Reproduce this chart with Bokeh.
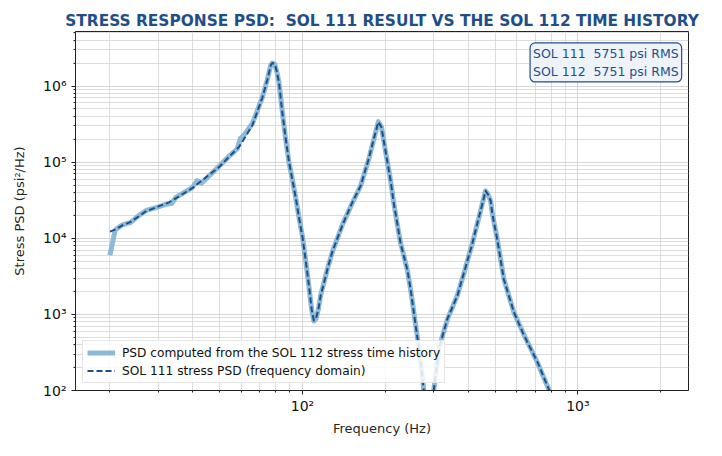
from bokeh.plotting import figure
from bokeh.models import FixedTicker, CustomJSTickFormatter, Label, Legend, LegendItem
from bokeh.embed import file_html
from bokeh.resources import INLINE

# ---- data ----
freq_111 = [20.0, 20.9, 22.2, 23.8, 27.0, 30.0, 32.7, 34.7, 39.8, 42.1, 49.8, 54.1, 58.8,
            60.5, 65.8, 71.5, 74.6, 76.7, 77.7, 79.3, 80.6, 82.2, 84.5, 86.9, 89.3, 91.9,
            94.5, 97.1, 100.0, 102.7, 105.6, 108.0, 110.0, 112.0, 114.2, 116.4, 123.1,
            128.4, 139.6, 151.7, 162.6, 174.3, 184.4, 188.6, 193.4, 200.4, 209.0, 214.8,
            221.0, 227.2, 233.6, 240.3, 247.0, 251.8, 257.6, 264.8, 272.5, 280.0, 288.0,
            296.0, 313.0, 335.7, 365.0, 385.5, 413.7, 437.0, 449.6, 462.0, 471.3, 482.0,
            489.0, 510.0, 538.6, 586.0, 637.0, 712.0, 785.0, 850.0, 1000.0]
psd_111 = [1.22e4, 1.30e4, 1.48e4, 1.64e4, 2.25e4, 2.62e4, 2.95e4, 3.35e4, 4.55e4, 5.35e4,
           8.6e4, 1.17e5, 1.58e5, 1.85e5, 3.05e5, 7.0e5, 1.22e6, 1.86e6, 2.01e6, 1.95e6,
           1.57e6, 1.11e6, 4.5e5, 2.05e5, 1.02e5, 5.9e4, 3.44e4, 1.89e4, 1.04e4, 5.2e3,
           2.35e3, 1.17e3, 8.3e2, 8.9e2, 1.15e3, 1.75e3, 3.86e3, 6.67e3, 1.48e4, 2.96e4,
           4.87e4, 1.13e5, 2.5e5, 3.37e5, 2.9e5, 1.38e5, 5.65e4, 2.81e4, 1.55e4, 8.5e3,
           5.74e3, 3.86e3, 2.13e3, 1.29e3, 7.1e2, 3.57e2, 1.46e2, 6.0e1, 4.0e1, 7.0e1,
           3.57e2, 8.71e2, 1.75e3, 3.49e3, 8.53e3, 1.89e4, 2.8e4, 4.19e4, 3.78e4, 3.11e4,
           2.09e4, 9.44e3, 2.87e3, 1.06e3, 5.3e2, 2.39e2, 1.03e2, 5.5e1, 2.0e1]

freq_112 = [20.0, 20.9, 22.2, 23.8, 25.5, 27.0, 30.0, 32.0, 33.5, 34.7, 39.8, 41.5, 43.0,
            49.8, 54.1, 58.0, 59.5, 61.0, 65.8, 71.5, 74.6, 76.7, 77.7, 79.3, 80.6, 82.2,
            84.5, 86.9, 89.3, 91.9, 94.5, 97.1, 100.0, 102.7, 105.6, 108.0, 110.0, 112.0,
            114.2, 116.4, 123.1, 128.4, 139.6, 151.7, 162.6, 174.3, 184.4, 188.6, 193.4,
            200.4, 209.0, 214.8, 221.0, 227.2, 233.6, 240.3, 247.0, 251.8, 257.6, 264.8,
            272.5, 280.0, 288.0, 296.0, 313.0, 335.7, 365.0, 385.5, 413.7, 437.0, 449.6,
            462.0, 471.3, 482.0, 489.0, 510.0, 538.6, 586.0, 637.0, 712.0, 785.0, 850.0,
            1000.0]
psd_112 = [6.0e3, 1.28e4, 1.50e4, 1.62e4, 2.0e4, 2.30e4, 2.58e4, 2.80e4, 2.85e4, 3.45e4,
           4.62e4, 5.7e4, 5.3e4, 8.8e4, 1.19e5, 1.50e5, 2.05e5, 2.2e5, 3.21e5, 7.1e5,
           1.22e6, 1.88e6, 2.0e6, 1.93e6, 1.58e6, 1.10e6, 4.6e5, 2.0e5, 1.0e5, 6.0e4,
           3.4e4, 1.9e4, 1.05e4, 5.1e3, 2.3e3, 1.15e3, 8.2e2, 8.8e2, 1.16e3, 1.78e3,
           3.9e3, 6.6e3, 1.5e4, 2.9e4, 4.9e4, 1.12e5, 2.48e5, 3.4e5, 2.92e5, 1.36e5,
           5.7e4, 2.8e4, 1.5e4, 8.6e3, 5.8e3, 3.8e3, 2.1e3, 1.3e3, 7.2e2, 3.6e2, 1.5e2,
           6.0e1, 4.0e1, 7.0e1, 3.6e2, 8.6e2, 1.78e3, 3.45e3, 8.6e3, 1.86e4, 2.85e4,
           4.2e4, 3.8e4, 3.1e4, 2.1e4, 9.6e3, 2.9e3, 1.05e3, 5.4e2, 2.35e2, 1.02e2,
           5.5e1, 2.0e1]

x_major = [100, 1000]
x_minor = [20, 30, 40, 50, 60, 70, 80, 90, 200, 300, 400, 500, 600, 700, 800, 900, 2000]
y_major = [1e2, 1e3, 1e4, 1e5, 1e6]
y_minor = [m * 10 ** e for e in range(2, 7) for m in range(2, 10)]

title_text = "STRESS RESPONSE PSD:\u00a0 SOL 111 RESULT VS THE SOL 112 TIME HISTORY"
legend_labels = ["PSD computed from the SOL 112 stress time history",
                 "SOL 111 stress PSD (frequency domain)"]
rms_text = "SOL 111\u00a0 5751 psi RMS\nSOL 112\u00a0 5751 psi RMS"

FONT = "DejaVu Sans"
TITLE_BLUE = "#1f4e89"

p = figure(width=706, height=440, x_axis_type="log", y_axis_type="log",
           x_range=(15.0, 2520.0), y_range=(100.0, 5.2e6),
           output_backend="svg", toolbar_location=None,
           min_border_left=75, min_border_right=18, min_border_top=31, min_border_bottom=50)

p.title.text = title_text
p.title.text_font = FONT
p.title.text_font_size = "15.4px"
p.title.text_font_style = "bold"
p.title.text_color = TITLE_BLUE
p.title.align = "center"
p.title.standoff = 4

p.outline_line_color = "#222222"
p.outline_line_width = 1
p.background_fill_color = "white"
p.border_fill_color = "white"

fmt = CustomJSTickFormatter(code="""
const sup = {"0":"\u2070","1":"\u00b9","2":"\u00b2","3":"\u00b3","4":"\u2074","5":"\u2075","6":"\u2076","7":"\u2077","8":"\u2078","9":"\u2079","-":"\u207b"};
const e = Math.round(Math.log10(tick));
return "10" + String(e).split("").map(c => sup[c]).join("");
""")

for ax, maj, mnr in ((p.xaxis[0], x_major, x_minor), (p.yaxis[0], y_major, y_minor)):
    ax.ticker = FixedTicker(ticks=maj, minor_ticks=mnr)
    ax.formatter = fmt
    ax.major_label_text_font = FONT
    ax.major_label_text_font_size = "14px"
    ax.major_label_text_color = "#111111"
    ax.axis_label_text_font = FONT
    ax.axis_label_text_font_size = "13px"
    ax.axis_label_text_font_style = "normal"
    ax.axis_label_text_color = "#262626"
    ax.axis_line_color = "#222222"
    ax.major_tick_line_color = "#222222"
    ax.minor_tick_line_color = "#222222"
    ax.major_tick_out = 4
    ax.major_tick_in = 0
    ax.minor_tick_out = 2
    ax.minor_tick_in = 0

p.xaxis.axis_label = "Frequency (Hz)"
p.xaxis.major_label_standoff = 3
p.xaxis.axis_label_standoff = 4
p.yaxis.axis_label = "Stress PSD (psi\u00b2/Hz)"
p.yaxis.axis_label_standoff = 13

for g in (p.xgrid[0], p.ygrid[0]):
    g.grid_line_color = "#cccccc"
    g.grid_line_width = 0.8
    g.minor_grid_line_color = "#d4d4d4"
    g.minor_grid_line_width = 0.8

r112 = p.line(freq_112, psd_112, line_color="#7fb3d3", line_width=5, line_alpha=0.9,
              line_join="round")
r111 = p.line(freq_111, psd_111, line_color="#1f4e89", line_width=2, line_dash="6 3",
              line_join="round")

legend = Legend(items=[LegendItem(label=legend_labels[0], renderers=[r112]),
                       LegendItem(label=legend_labels[1], renderers=[r111])],
                location="bottom_left")
legend.margin = 7
legend.padding = 4
legend.spacing = 3
legend.glyph_width = 28
legend.glyph_height = 15
legend.label_height = 15
legend.label_standoff = 7
legend.label_text_font = FONT
legend.label_text_font_size = "12.2px"
legend.label_text_color = "#111111"
legend.border_line_color = "#cccccc"
legend.background_fill_color = "white"
legend.background_fill_alpha = 0.85
p.add_layout(legend)

lab = Label(x=2380, y=3.68e6, text=rms_text, text_align="right", text_baseline="top",
            text_font=FONT, text_font_size="12.5px", text_color=TITLE_BLUE,
            background_fill_color="#eef3fa", background_fill_alpha=1.0,
            border_line_color=TITLE_BLUE, border_line_width=1.2,
            padding=3, border_radius=5)
p.add_layout(lab)

open("out.html", "w").write(file_html(p, INLINE))
